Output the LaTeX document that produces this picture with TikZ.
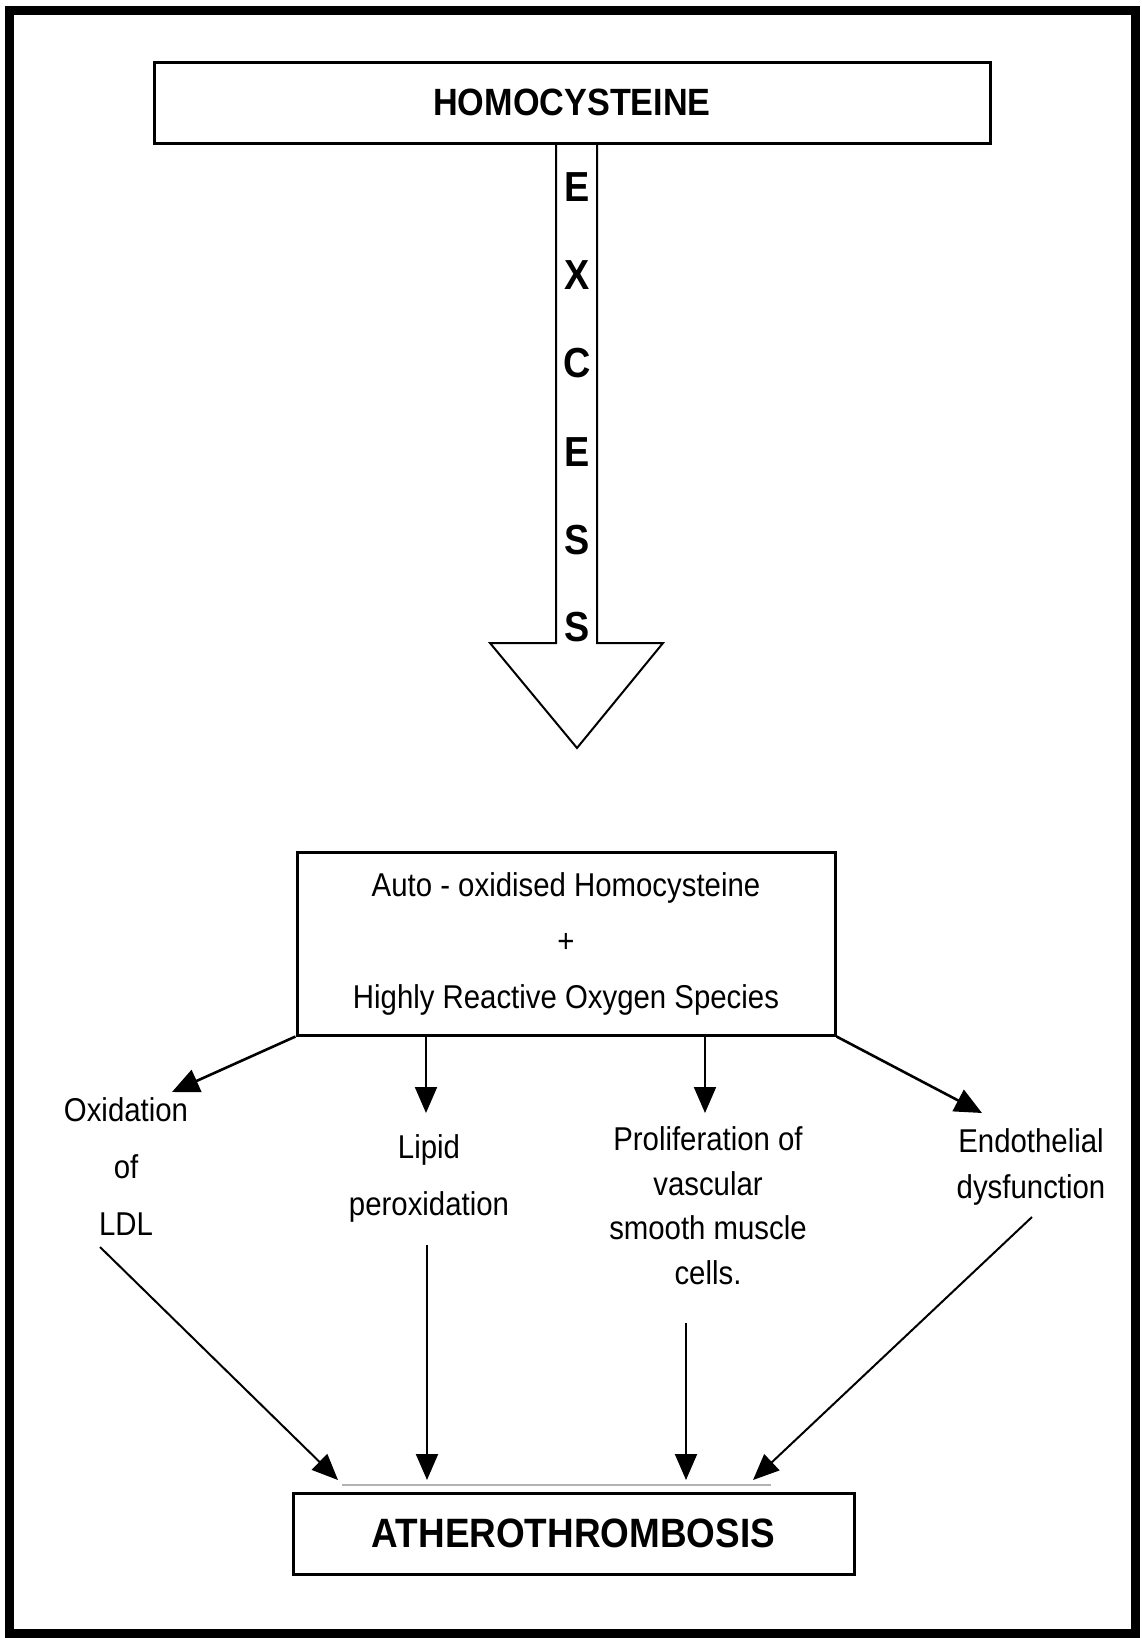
\documentclass[tikz,border=0pt]{standalone}
\usepackage{fontspec}
\setmainfont{Liberation Sans}
\newfontfamily\bodyf[FakeStretch=0.89]{Liberation Sans}
\newfontfamily\headf[FakeStretch=0.9]{Liberation Sans}
\usetikzlibrary{arrows.meta}
\begin{document}
\begin{tikzpicture}[x=1pt,y=-1pt,
  box/.style={draw, line width=3pt, inner sep=0pt},
  arr/.style={-{Triangle[length=26pt,width=22pt]}, line width=2pt},
  thickarr/.style={-{Triangle[length=27pt,width=24pt]}, line width=2.6pt},
  body/.style={font=\bodyf\fontsize{33}{56}\selectfont, align=center, inner sep=0pt},
  head/.style={font=\headf\bfseries\fontsize{38}{40}\selectfont},
  letter/.style={font=\headf\bfseries\fontsize{42}{44}\selectfont, inner sep=0pt}]
\useasboundingbox (0,0) rectangle (1141,1638);
\draw[line width=9pt] (9,10) rectangle (1135,1633);

% top box
\node[box, minimum width=836pt, minimum height=81pt, head] (homo) at (572,102.5) {HOMOCYSTEINE};

% block arrow
\draw[line width=2pt, line join=miter] (556,143) -- (556,643) -- (490,643) -- (577,748) -- (663,643) -- (597,643) -- (597,143);
\foreach \l/\yy in {E/187,X/275,C/363,E/452,S/540,S/627}
  \node[letter] (let\yy) at (577,\yy) {\l};

% middle box
\node[box, minimum width=538pt, minimum height=183pt, body] (mid) at (566,943.5)
  {Auto - oxidised Homocysteine\\+\\Highly Reactive Oxygen Species};

% labels (anchor base = baseline of the last line)
\node[body, font=\bodyf\fontsize{33}{57}\selectfont, anchor=base] (ox) at (126,1235) {Oxidation\\of\\LDL};
\node[body, font=\bodyf\fontsize{33}{57}\selectfont, anchor=base] (lip) at (429,1215) {Lipid\\peroxidation};
\node[body, font=\bodyf\fontsize{33}{44.5}\selectfont, anchor=base] (pro) at (708,1284) {Proliferation of\\vascular\\smooth muscle\\cells.};
\node[body, font=\bodyf\fontsize{33}{46}\selectfont, anchor=base] (endo) at (1031,1198) {Endothelial\\dysfunction};

% bottom box
\node[box, minimum width=561pt, minimum height=81pt, font=\headf\bfseries\fontsize{41}{43}\selectfont] (ath) at (573.5,1533.5) {ATHEROTHROMBOSIS};
\draw[gray!60, line width=2pt] (342,1485) -- (771,1485);

% arrow end points
\coordinate (t1) at (172,1092);
\coordinate (t2) at (426,1113);
\coordinate (t3) at (705,1113);
\coordinate (t4) at (982,1113);
\coordinate (s5) at (100,1247);
\coordinate (s6) at (427,1245);
\coordinate (s7) at (686,1323);
\coordinate (s8) at (1032,1217);
\coordinate (e5) at (338,1480);
\coordinate (e6) at (427,1480);
\coordinate (e7) at (686,1480);
\coordinate (e8) at (753,1480);

\draw[thickarr] (mid.south west) -- (t1);
\draw[arr] (t2 |- mid.south) -- (t2);
\draw[arr] (t3 |- mid.south) -- (t3);
\draw[thickarr] (mid.south east) -- (t4);

\draw[arr] (s5) -- (e5);
\draw[arr] (s6) -- (e6);
\draw[arr] (s7) -- (e7);
\draw[arr] (s8) -- (e8);
\end{tikzpicture}
\end{document}
